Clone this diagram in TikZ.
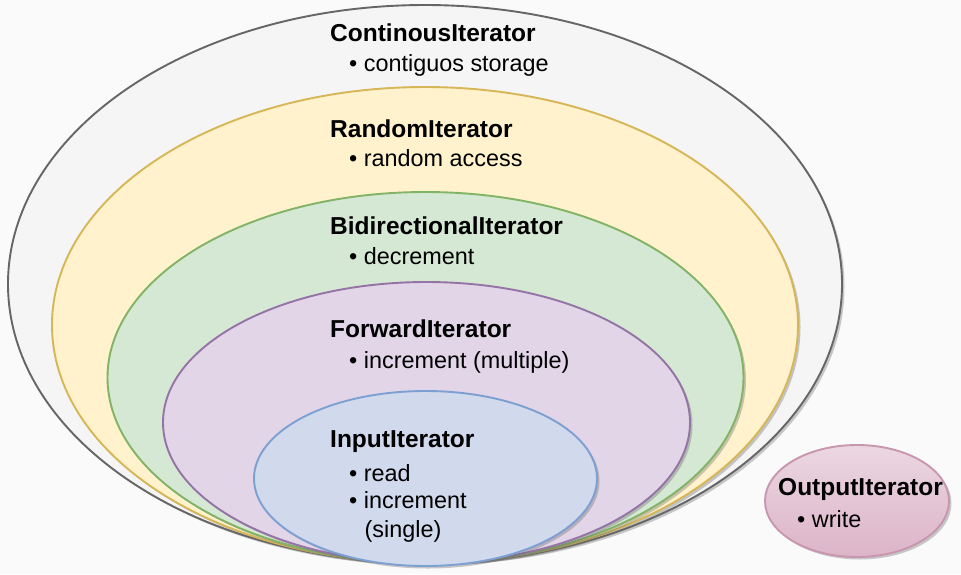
\documentclass[tikz,border=0pt]{standalone}
\usepackage{fontspec}
\setmainfont{Liberation Sans}
\usetikzlibrary{shapes.geometric,shadows}
\definecolor{bgc}{HTML}{FAFAFA}
\definecolor{grayF}{HTML}{F5F5F5}\definecolor{grayD}{HTML}{666666}
\definecolor{yelF}{HTML}{FFF2CC}\definecolor{yelD}{HTML}{D6B656}
\definecolor{grnF}{HTML}{D5E8D4}\definecolor{grnD}{HTML}{82B366}
\definecolor{purF}{HTML}{E1D5E7}\definecolor{purD}{HTML}{9673A6}
\definecolor{bluF}{HTML}{D1D9EC}\definecolor{bluD}{HTML}{7DA0D2}
\definecolor{pnkT}{HTML}{EBD7E1}\definecolor{pnkB}{HTML}{DCB4C8}\definecolor{pnkD}{HTML}{C896AF}
\tikzset{
  ell/.style={ellipse, line width=1.9pt, inner sep=0pt, outer sep=0pt,
    drop shadow={shadow xshift=2.5pt, shadow yshift=-2.5pt, opacity=0.35, fill=black!60}},
  ttl/.style={anchor=base west, inner sep=0pt, font=\fontsize{24.5}{28}\selectfont\bfseries},
  itm/.style={anchor=base west, inner sep=0pt, font=\fontsize{23.4}{28}\selectfont},
}
\begin{document}
\begin{tikzpicture}[x=1pt,y=-1pt]
\fill[bgc] (0,0) rectangle (961,574);
\useasboundingbox (0,0) rectangle (961,574);
% nested ellipses
\node[ell, fill=grayF, draw=grayD, minimum width=834pt, minimum height=558pt] (cont) at (425,284) {};
\node[ell, fill=yelF, draw=yelD, minimum width=746pt, minimum height=476pt] (rand) at (425,325) {};
\node[ell, fill=grnF, draw=grnD, minimum width=636pt, minimum height=371pt] (bidi) at (425.5,377.5) {};
\node[ell, fill=purF, draw=purD, minimum width=527pt, minimum height=281pt] (fwd) at (426.5,422.5) {};
\node[ell, fill=bluF, draw=bluD, minimum width=343pt, minimum height=175pt] (inp) at (425.5,478.5) {};
\node[ell, top color=pnkT, bottom color=pnkB, draw=pnkD, minimum width=184pt, minimum height=112pt] (outp) at (857,501) {};
% texts
\node[ttl] (t1) at (330,41) {ContinousIterator};
\node[itm] (b1) at (349,71) {• contiguos storage};
\node[ttl] (t2) at (330,137) {RandomIterator};
\node[itm] (b2) at (349,166) {• random access};
\node[ttl] (t3) at (330,234) {BidirectionalIterator};
\node[itm] (b3) at (349,264) {• decrement};
\node[ttl] (t4) at (330,337) {ForwardIterator};
\node[itm] (b4) at (349,368) {• increment (multiple)};
\node[ttl] (t5) at (330,447) {InputIterator};
\node[itm] (b5) at (349,481) {• read};
\node[itm] (b6) at (349,508) {• increment};
\node[itm] (b7) at (364.5,537) {(single)};
\node[ttl] (t6) at (778,495) {OutputIterator};
\node[itm] (b8) at (797,527) {• write};
\end{tikzpicture}
\end{document}
